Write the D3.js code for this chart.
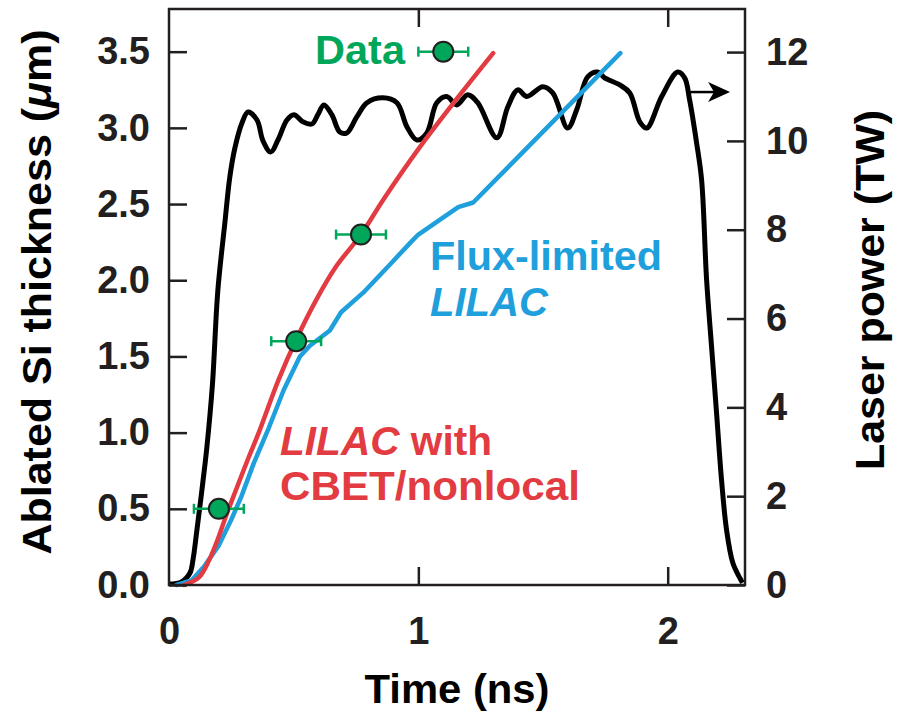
<!DOCTYPE html>
<html>
<head>
<meta charset="utf-8">
<script src="https://cdn.jsdelivr.net/npm/d3@7"></script>
<style>
  body { margin: 0; background: #fff; }
  svg { display: block; font-family: "Liberation Sans", Arial, Helvetica, sans-serif; font-weight: bold; }
</style>
</head>
<body>
<svg id="chart" width="902" height="714"></svg>
<script>
// values
const timeTicks = [0, 1, 2];
const thickTicks = [0, 0.5, 1, 1.5, 2, 2.5, 3, 3.5];
const powerTicks = [0, 2, 4, 6, 8, 10, 12];

// laser power (TW) vs time (ns)
const laserT = [0, 0.05, 0.084, 0.096, 0.112, 0.132, 0.152, 0.174, 0.196, 0.224, 0.244, 0.265, 0.293, 0.317, 0.353, 0.377, 0.408, 0.437, 0.473, 0.501, 0.537, 0.573, 0.597, 0.621, 0.653, 0.685, 0.713, 0.753, 0.794, 0.858, 0.914, 0.954, 0.994, 1.034, 1.074, 1.114, 1.154, 1.198, 1.238, 1.315, 1.359, 1.399, 1.435, 1.499, 1.539, 1.599, 1.635, 1.679, 1.719, 1.747, 1.808, 1.848, 1.888, 1.916, 1.976, 2.04, 2.068, 2.088, 2.116, 2.136, 2.156, 2.176, 2.196, 2.216, 2.236, 2.261, 2.289, 2.3];
const laserP = [0.02, 0.07, 0.27, 0.56, 1.24, 2.14, 3.11, 4.5, 6.64, 8.15, 9.19, 9.86, 10.41, 10.65, 10.47, 10.0, 9.75, 10.02, 10.47, 10.59, 10.43, 10.38, 10.59, 10.81, 10.59, 10.2, 10.18, 10.54, 10.86, 10.97, 10.86, 10.32, 10.02, 10.18, 10.86, 11.0, 10.81, 11.04, 10.86, 10.07, 10.77, 11.15, 11.0, 11.22, 11.08, 10.29, 10.7, 11.44, 11.55, 11.42, 11.26, 11.08, 10.43, 10.29, 11.0, 11.55, 11.42, 10.92, 9.95, 9.12, 6.87, 5.36, 3.87, 2.36, 1.24, 0.5, 0.16, 0.05];

// LILAC with CBET/nonlocal
const cbetT = [0.06, 0.12, 0.16, 0.2, 0.23, 0.27, 0.32, 0.36, 0.44, 0.51, 0.59, 0.67, 0.77, 0.86, 1.0, 1.13, 1.3];
const cbetD = [0, 0.05, 0.16, 0.32, 0.46, 0.63, 0.84, 1.0, 1.35, 1.61, 1.87, 2.09, 2.3, 2.53, 2.86, 3.14, 3.49];

// flux-limited LILAC
const fluxT = [0.03, 0.09, 0.14, 0.2, 0.25, 0.29, 0.34, 0.4, 0.46, 0.525, 0.565, 0.645, 0.69, 0.78, 0.89, 0.97, 1.0, 1.16, 1.22, 1.81];
const fluxD = [0, 0.03, 0.12, 0.26, 0.43, 0.58, 0.8, 1.03, 1.28, 1.5, 1.57, 1.67, 1.79, 1.92, 2.11, 2.25, 2.3, 2.48, 2.51, 3.49];

// measured points
const dataT = [0.2, 0.51, 0.77, 1.1];
const dataD = [0.5, 1.6, 2.3, 3.5];
const dataErr = [0.1, 0.1, 0.1, 0.1];

const red = '#e23b41', blue = '#1f9fdb', green = '#00a65a', ink = '#231f20';

const svg = d3.select('#chart');
const m = { left: 169, right: 745, top: 9, bottom: 585 };

const x = d3.scaleLinear().domain([0, 2.31]).range([m.left, m.right]);
const yL = d3.scaleLinear().domain([0, 3.78]).range([m.bottom, m.top]);
const yR = d3.scaleLinear().domain([0, 12.97]).range([m.bottom, m.top]);

const tickLen = 18;
const plot = svg.append('g');

svg.append('defs').append('clipPath').attr('id', 'clip')
  .append('rect').attr('x', m.left).attr('y', m.top)
  .attr('width', m.right - m.left).attr('height', m.bottom - m.top);

const lineOf = (xs, ys, yScale, curve) => d3.line()
  .x((d, i) => x(xs[i]))
  .y((d, i) => yScale(ys[i]))
  .curve(curve)(xs);

// laser pulse
plot.append('path')
  .attr('d', lineOf(laserT, laserP, yR, d3.curveCatmullRom.alpha(0.5)))
  .attr('fill', 'none').attr('stroke', '#000').attr('stroke-width', 5)
  .attr('stroke-linejoin', 'round').attr('clip-path', 'url(#clip)');

plot.append('path')
  .attr('d', lineOf(fluxT, fluxD, yL, d3.curveLinear))
  .attr('fill', 'none').attr('stroke', blue).attr('stroke-width', 4.5)
  .attr('stroke-linejoin', 'round').attr('stroke-linecap', 'round');

plot.append('path')
  .attr('d', lineOf(cbetT, cbetD, yL, d3.curveCatmullRom.alpha(0.5)))
  .attr('fill', 'none').attr('stroke', red).attr('stroke-width', 4.5)
  .attr('stroke-linecap', 'round');

// data with error bars
const pts = plot.selectAll('.pt').data(dataT).enter().append('g').attr('class', 'pt');
pts.append('line')
  .attr('x1', (d, i) => x(d - dataErr[i])).attr('x2', (d, i) => x(d + dataErr[i]))
  .attr('y1', (d, i) => yL(dataD[i])).attr('y2', (d, i) => yL(dataD[i]))
  .attr('stroke', green).attr('stroke-width', 2.5);
[-1, 1].forEach(s => {
  pts.append('line')
    .attr('x1', (d, i) => x(d + s * dataErr[i])).attr('x2', (d, i) => x(d + s * dataErr[i]))
    .attr('y1', (d, i) => yL(dataD[i]) - 5).attr('y2', (d, i) => yL(dataD[i]) + 5)
    .attr('stroke', green).attr('stroke-width', 2.5);
});
pts.append('circle')
  .attr('cx', d => x(d)).attr('cy', (d, i) => yL(dataD[i])).attr('r', 10)
  .attr('fill', green).attr('stroke', ink).attr('stroke-width', 2);

// frame
svg.append('rect')
  .attr('x', m.left).attr('y', m.top)
  .attr('width', m.right - m.left).attr('height', m.bottom - m.top)
  .attr('fill', 'none').attr('stroke', ink).attr('stroke-width', 2.5);

// axes (ticks drawn inward)
const axL = svg.append('g').attr('transform', `translate(${m.left},0)`)
  .call(d3.axisLeft(yL).tickValues(thickTicks).tickFormat(d3.format('.1f'))
    .tickSizeInner(-tickLen).tickSizeOuter(0).tickPadding(19));
const axR = svg.append('g').attr('transform', `translate(${m.right},0)`)
  .call(d3.axisRight(yR).tickValues(powerTicks).tickFormat(d3.format('d'))
    .tickSizeInner(-tickLen).tickSizeOuter(0).tickPadding(21));
const axB = svg.append('g').attr('transform', `translate(0,${m.bottom})`)
  .call(d3.axisBottom(x).tickValues(timeTicks).tickFormat(d3.format('d'))
    .tickSizeInner(-tickLen).tickSizeOuter(0).tickPadding(32));
const axT = svg.append('g').attr('transform', `translate(0,${m.top})`)
  .call(d3.axisTop(x).tickValues(timeTicks.slice(1)).tickFormat('')
    .tickSizeInner(-tickLen).tickSizeOuter(0));

[axL, axR, axB, axT].forEach(a => {
  a.select('.domain').remove();
  a.selectAll('line').attr('stroke', ink).attr('stroke-width', 2.5);
  a.selectAll('text').attr('fill', ink)
    .style('font-size', '38px').style('font-weight', 'bold')
    .style('font-family', '"Liberation Sans", Arial, sans-serif');
});
axB.selectAll('.tick').filter(d => d === 0).select('line').remove();

// axis titles
const title = (tr, len, size) => svg.append('text').attr('transform', tr)
  .attr('text-anchor', 'middle').attr('textLength', len).attr('lengthAdjust', 'spacingAndGlyphs')
  .style('font-size', size).attr('fill', '#000');
title('translate(457,703)', 185, '40px').text('Time (ns)');
title('translate(51,292) rotate(-90)', 525, '40px')
  .html('Ablated Si thickness (<tspan font-style="italic">\u03bc</tspan>m)');
title('translate(884,290) rotate(-90)', 360, '40px').text('Laser power (TW)');

// labels
const label = (px, py, len, color) => svg.append('text').attr('x', px).attr('y', py)
  .attr('textLength', len).attr('lengthAdjust', 'spacingAndGlyphs')
  .style('font-size', '40px').attr('fill', color);
label(315, 64, 90, green).text('Data');
label(430, 270, 232, blue).text('Flux-limited');
label(430, 316, 118, blue).attr('font-style', 'italic').text('LILAC');
label(280, 455, 212, red).html('<tspan font-style="italic">LILAC</tspan> with');
label(280, 500, 300, red).text('CBET/nonlocal');

// arrow pointing to the right axis
const arrowP = 11.1;
const ax0 = x(2.09), ax1 = x(2.25), ay = yR(arrowP);
svg.append('line').attr('x1', ax0).attr('x2', ax1 - 15).attr('y1', ay).attr('y2', ay)
  .attr('stroke', '#000').attr('stroke-width', 2.5);
svg.append('path')
  .attr('d', `M${ax1},${ay} L${ax1 - 22},${ay - 10} L${ax1 - 16},${ay} L${ax1 - 22},${ay + 10} Z`)
  .attr('fill', '#000');
</script>
</body>
</html>
